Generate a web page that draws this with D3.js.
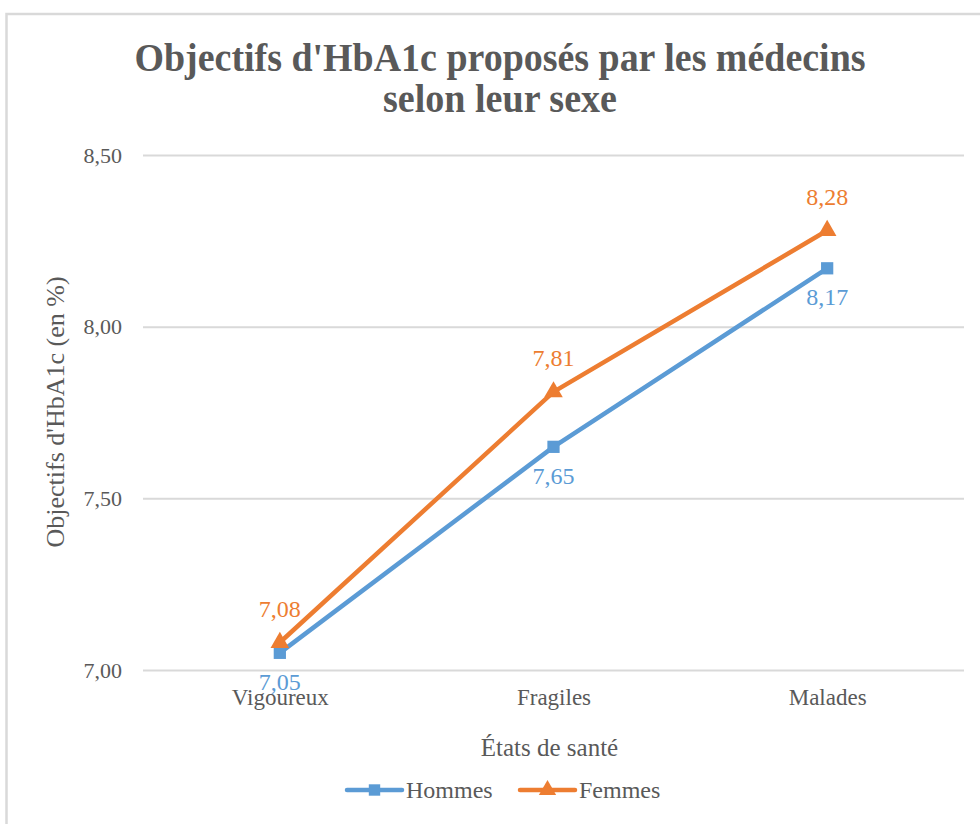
<!DOCTYPE html>
<html>
<head>
<meta charset="utf-8">
<script src="https://cdn.jsdelivr.net/npm/d3@7"></script>
<style>
  html, body { margin: 0; padding: 0; background: #fff; }
  svg text { font-family: "Liberation Serif", "Times New Roman", serif; }
</style>
</head>
<body>
<svg id="chart" width="980" height="824"></svg>
<script>
const categories = ["Vigoureux", "Fragiles", "Malades"];
const hommes = [7.05, 7.65, 8.17];
const femmes = [7.08, 7.81, 8.28];
const yTicks = [7.0, 7.5, 8.0, 8.5];
const seriesNames = ["Hommes", "Femmes"];
const titleLines = ["Objectifs d'HbA1c proposés par les médecins", "selon leur sexe"];
const yTitle = "Objectifs d'HbA1c (en %)";
const xTitle = "États de santé";

const colors = { Hommes: "#5B9BD5", Femmes: "#ED7D31" };
const textColor = "#595959";
const gridColor = "#D9D9D9";

const svg = d3.select("#chart");

// outer border
svg.append("rect")
  .attr("x", 6.5).attr("y", 14).attr("width", 1000).attr("height", 900)
  .attr("fill", "none").attr("stroke", "#D9D9D9").attr("stroke-width", 2.5);

const plotLeft = 143, plotRight = 964, plotTop = 155, plotBottom = 670;

const x = d3.scalePoint().domain(categories).range([plotLeft, plotRight]).padding(0.5);
const y = d3.scaleLinear().domain([7.0, 8.5]).range([plotBottom, plotTop]);

// title
const title = svg.append("g");
title.append("text")
  .attr("x", 500).attr("y", 71)
  .attr("text-anchor", "middle")
  .attr("font-size", 40).attr("font-weight", "bold")
  .attr("fill", textColor)
  .attr("textLength", 731).attr("lengthAdjust", "spacingAndGlyphs")
  .text(titleLines[0]);
title.append("text")
  .attr("x", 500).attr("y", 112)
  .attr("text-anchor", "middle")
  .attr("font-size", 40).attr("font-weight", "bold")
  .attr("fill", textColor)
  .attr("textLength", 234).attr("lengthAdjust", "spacingAndGlyphs")
  .text(titleLines[1]);

// y axis with grid
const yAxis = d3.axisLeft(y).tickValues(yTicks)
  .tickSize(-(plotRight - plotLeft)).tickPadding(21)
  .tickFormat(d => d3.format(".2f")(d).replace(".", ","));
const gy = svg.append("g").attr("transform", `translate(${plotLeft},0)`).call(yAxis);
gy.select(".domain").remove();
gy.selectAll(".tick line").attr("stroke", gridColor).attr("stroke-width", 2);
gy.selectAll(".tick text")
  .attr("fill", textColor).attr("font-size", 22)
  .attr("font-family", "Liberation Serif, serif");

// x axis
const xAxis = d3.axisBottom(x).tickSize(0).tickPadding(19);
const gx = svg.append("g").attr("transform", `translate(0,${plotBottom})`).call(xAxis);
gx.select(".domain").remove();
gx.selectAll(".tick text")
  .attr("fill", textColor).attr("font-size", 23)
  .attr("font-family", "Liberation Serif, serif");

// axis titles
svg.append("text")
  .attr("transform", `translate(64,412) rotate(-90)`)
  .attr("text-anchor", "middle")
  .attr("font-size", 26).attr("fill", textColor)
  .text(yTitle);
svg.append("text")
  .attr("x", x(categories[1]) - 4).attr("y", 756)
  .attr("text-anchor", "middle")
  .attr("font-size", 25).attr("fill", textColor)
  .text(xTitle);

const series = [
  { name: seriesNames[0], values: hommes, marker: d3.symbolSquare, labelDy: 37 },
  { name: seriesNames[1], values: femmes, marker: d3.symbolTriangle, labelDy: -26 }
];

const line = d3.line().x((d, i) => x(categories[i])).y(d => y(d));

series.forEach(s => {
  svg.append("path")
    .datum(s.values)
    .attr("d", line)
    .attr("fill", "none")
    .attr("stroke", colors[s.name])
    .attr("stroke-width", 4.5)
    .attr("stroke-linejoin", "round")
    .attr("stroke-linecap", "round");
});

series.forEach(s => {
  const sym = d3.symbol().type(s.marker).size(150);
  svg.append("g").selectAll("path")
    .data(s.values)
    .join("path")
    .attr("d", sym)
    .attr("transform", (d, i) => `translate(${x(categories[i])},${y(d)})`)
    .attr("fill", colors[s.name]);
  svg.append("g").selectAll("text")
    .data(s.values)
    .join("text")
    .attr("x", (d, i) => x(categories[i]))
    .attr("y", d => y(d) + s.labelDy)
    .attr("text-anchor", "middle")
    .attr("font-size", 24)
    .attr("fill", colors[s.name])
    .text(d => d3.format(".2f")(d).replace(".", ","));
});

// legend
const legendItems = [
  { name: seriesNames[0], x0: 347, marker: d3.symbolSquare },
  { name: seriesNames[1], x0: 520, marker: d3.symbolTriangle }
];
const ly = 790;
legendItems.forEach(it => {
  const g = svg.append("g");
  g.append("line")
    .attr("x1", it.x0).attr("x2", it.x0 + 55)
    .attr("y1", ly).attr("y2", ly)
    .attr("stroke", colors[it.name]).attr("stroke-width", 4.5)
    .attr("stroke-linecap", "round");
  g.append("path")
    .attr("d", d3.symbol().type(it.marker).size(130))
    .attr("transform", `translate(${it.x0 + 27.5},${ly})`)
    .attr("fill", colors[it.name]);
  g.append("text")
    .attr("x", it.x0 + 59).attr("y", ly + 8)
    .attr("font-size", 24).attr("fill", textColor)
    .text(it.name);
});
</script>
</body>
</html>
